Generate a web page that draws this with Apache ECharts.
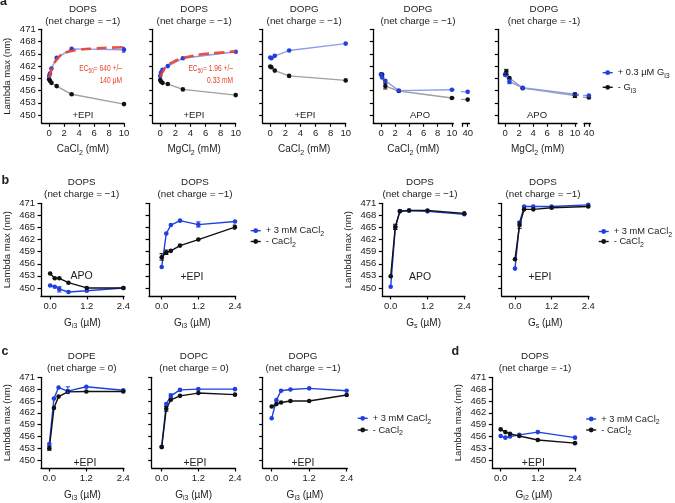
<!DOCTYPE html>
<html><head><meta charset="utf-8">
<script src="https://cdn.jsdelivr.net/npm/echarts@6/dist/echarts.min.js"></script>
<style>html,body{margin:0;padding:0;background:#fff}#c{width:675px;height:503px}</style>
</head><body><div id="c"></div>
<script>
// ---------------- DATA ----------------
const yTicks = [450, 453, 456, 459, 462, 465, 468, 471];
const aTicks = [0, 2, 4, 6, 8, 10];
const gTicks = [0, 1.2, 2.4];

// a1: DOPS, CaCl2, +EPI
const a1X = [0, 0.1, 0.3, 1, 3, 10];
const a1Blue = [459.6, 460.2, 461.4, 464.0, 466.2, 466.0];
const a1Black = [458.8, 458.4, 457.9, 457.1, 455.1, 452.7];
const a1FitX = [0, 0.25, 0.5, 1, 1.5, 2, 3, 4, 6, 8, 10];
const a1FitY = [459.2, 460.8, 462.0, 463.6, 464.6, 465.2, 465.7, 466.0, 466.3, 466.5, 466.6];
const a1ErrBlue = [[10, 465.4, 466.6]];
// a2: DOPS, MgCl2, +EPI
const a2X = [0, 0.1, 0.3, 1, 3, 10];
const a2Blue = [459.6, 460.4, 461.1, 462.0, 463.9, 465.5];
const a2Black = [458.6, 458.2, 457.9, 457.6, 456.3, 454.9];
const a2FitX = [0, 0.5, 1, 2, 3, 4, 6, 8, 10];
const a2FitY = [459.4, 461.2, 462.2, 463.3, 464.0, 464.4, 465.0, 465.3, 465.6];
// a3: DOPG, CaCl2, +EPI
const a3X = [0, 0.15, 0.6, 2.5, 10];
const a3Blue = [464.1, 463.9, 464.5, 465.8, 467.5];
const a3Black = [461.9, 461.7, 460.9, 459.6, 458.5];
// a4: DOPG, CaCl2, APO (broken axis, last point at 40 mM)
const a4X = [0, 0.15, 0.6, 2.5, 10, 40];
const a4Blue = [459.9, 459.2, 458.4, 456.0, 456.2, 455.7];
const a4Black = [460.0, 459.9, 457.1, 455.9, 454.2, 453.8];
const a4ErrBlack = [[0.6, 456.4, 457.8]];
// a5: DOPG, MgCl2, APO
const a5X = [0, 0.15, 0.6, 2.5, 10, 40];
const a5Blue = [459.8, 460.0, 458.2, 456.7, 455.1, 454.8];
const a5Black = [460.0, 460.6, 459.1, 456.6, 454.8, 454.3];
const a5ErrBlue = [[0.6, 457.7, 458.7]];
const a5ErrBlack = [[0.15, 460.0, 461.2], [10, 454.3, 455.4]];

// rows b-d: G protein concentration (uM)
const gX = [0, 0.15, 0.3, 0.6, 1.2, 2.4];
// b1: DOPS, Gi3, APO
const b1Blue = [450.6, 450.3, 449.7, 449.0, 449.3, 450.0];
const b1Black = [453.6, 452.4, 452.4, 451.3, 450.0, 450.0];
const b1ErrBlue = [[0.3, 449.0, 450.3]];
// b2: DOPS, Gi3, +EPI
const b2Blue = [455.2, 463.5, 465.6, 466.7, 465.7, 466.5];
const b2Black = [457.6, 458.8, 459.2, 460.5, 462.0, 465.1];
const b2ErrBlue = [[1.2, 465.1, 466.4]];
const b2ErrBlack = [[0, 456.9, 458.5], [0.15, 458.3, 459.4], [2.4, 464.6, 465.6]];
// b3: DOPS, Gs, APO
const b3Blue = [450.3, 465.0, 469.1, 469.2, 469.0, 468.3];
const b3Black = [452.9, 465.2, 469.0, 469.2, 469.2, 468.5];
const b3ErrBlack = [[0.15, 464.5, 465.8]];
// b4: DOPS, Gs, +EPI
const b4Blue = [454.8, 466.2, 470.2, 470.2, 470.2, 470.6];
const b4Black = [457.1, 465.6, 469.5, 469.5, 469.9, 470.2];
const b4ErrBlack = [[0.15, 464.8, 466.4]];
// c1: DOPE, Gi3, +EPI
const c1Blue = [454.1, 465.6, 468.4, 467.5, 468.6, 467.7];
const c1Black = [453.0, 463.2, 466.1, 467.3, 467.4, 467.4];
const c1ErrBlue = [[0.6, 467.0, 468.6]];
const c1ErrBlack = [[0, 452.5, 453.5]];
// c2: DOPC, Gi3, +EPI
const c2Blue = [453.4, 464.2, 466.3, 467.8, 468.0, 468.0];
const c2Black = [453.3, 463.0, 465.3, 466.3, 467.0, 466.6];
const c2ErrBlue = [[0.3, 465.9, 466.8]];
const c2ErrBlack = [[0.15, 462.4, 463.6]];
// c3: DOPG, Gi3, +EPI
const c3Blue = [460.6, 465.2, 467.6, 467.9, 468.2, 467.6];
const c3Black = [463.6, 464.2, 464.6, 465.0, 465.0, 466.5];
// d: DOPS, Gi2, +EPI
const dBlue = [456.1, 455.7, 456.0, 456.4, 457.1, 455.7];
const dBlack = [457.8, 457.1, 456.7, 456.1, 455.1, 454.3];

// ---------------- STYLE ----------------
const FONT = '"Liberation Sans", Arial, Helvetica, sans-serif';
const BLUE = '#1f3fe0', BLACK = '#111111', LBLUE = '#8d9cf0', GRAY = '#a0a0a0', RED = '#e8412c';
const TXT = '#222';
const SUB = { fontSize: 7, lineHeight: 14, verticalAlign: 'bottom', fontFamily: FONT, color: TXT };
const A_BLUE = '+ 0.3 µM Gi3', A_BLACK = '- Gi3', C_BLUE = '+ 3 mM CaCl2', C_BLACK = '- CaCl2';
const legendFmt = {};
legendFmt[A_BLUE] = '+ 0.3 µM G{s|i3}';
legendFmt[A_BLACK] = '- G{s|i3}';
legendFmt[C_BLUE] = '+ 3 mM CaCl{s|2}';
legendFmt[C_BLACK] = '- CaCl{s|2}';

const option = {
  animation: false, backgroundColor: '#fff',
  textStyle: { fontFamily: FONT },
  grid: [], xAxis: [], yAxis: [], series: [], legend: [], graphic: []
};

function pairs(xs, ys) { return xs.map((v, i) => [v, ys[i]]); }

function errRender(params, api) {
  const x = api.value(0), lo = api.value(1), hi = api.value(2);
  const p1 = api.coord([x, lo]), p2 = api.coord([x, hi]);
  const w = 2.2;
  const style = { stroke: api.visual('color'), lineWidth: 1 };
  return { type: 'group', children: [
    { type: 'line', shape: { x1: p1[0], y1: p1[1], x2: p2[0], y2: p2[1] }, style },
    { type: 'line', shape: { x1: p1[0] - w, y1: p1[1], x2: p1[0] + w, y2: p1[1] }, style },
    { type: 'line', shape: { x1: p2[0] - w, y1: p2[1], x2: p2[0] + w, y2: p2[1] }, style }
  ] };
}

const AX_LINE = { show: true, onZero: false, lineStyle: { color: '#000', width: 1.3 } };

function addGrid(p) {
  const gi = option.grid.length;
  option.grid.push({ left: p.g[0], top: p.g[1], width: p.g[2], height: p.g[3] });
  option.xAxis.push({
    gridIndex: gi, type: 'value', min: p.xr[0], max: p.xr[1],
    axisLine: AX_LINE,
    axisTick: { show: true, length: 3.5, customValues: p.xt, lineStyle: { color: '#000', width: 1.2 } },
    axisLabel: { show: true, customValues: p.xl || p.xt, margin: 5, fontSize: 9.5, color: TXT, fontFamily: FONT,
      formatter: p.xf || (v => String(v)) },
    splitLine: { show: false },
    name: p.xName || '', nameLocation: 'middle', nameGap: p.nameGap || 19,
    nameTextStyle: { fontSize: 10, color: TXT, fontFamily: FONT, rich: { s: SUB } }
  });
  option.yAxis.push({
    gridIndex: gi, type: 'value', min: 448, max: 471, show: p.yShow !== false,
    axisLine: AX_LINE,
    axisTick: { show: true, length: 3.5, customValues: yTicks, lineStyle: { color: '#000', width: 1.2 } },
    axisLabel: { show: !!p.yLab, customValues: yTicks, margin: 6, fontSize: 9.5, color: TXT, fontFamily: FONT },
    splitLine: { show: false },
    name: p.yLab ? 'Lambda max (nm)' : '', nameLocation: 'middle', nameGap: 29, nameRotate: 90,
    nameTextStyle: { fontSize: 9.5, color: TXT, fontFamily: FONT }
  });
  (p.lines || []).forEach(s => {
    option.series.push({
      type: 'line', name: s.name, xAxisIndex: gi, yAxisIndex: gi, data: pairs(s.x, s.y),
      clip: true, symbol: s.noSym ? 'none' : 'circle', symbolSize: 4.6, smooth: !!s.smooth,
      itemStyle: { color: s.c }, lineStyle: { color: s.lc || s.c, width: s.w || 1.4, type: s.dash ? 'dashed' : 'solid', opacity: s.op || 1 },
      emphasis: { disabled: true }, z: s.z || 2
    });
  });
  (p.errs || []).forEach(e => {
    option.series.push({
      type: 'custom', xAxisIndex: gi, yAxisIndex: gi, data: e.d, renderItem: errRender, clip: true,
      encode: { x: 0, y: [1, 2] }, itemStyle: { color: e.c }, z: 3, silent: true
    });
  });
  return gi;
}

function txt(x, y, text, extra, scaleX) {
  option.graphic.push({ type: 'text', silent: true, x, y, scaleX: scaleX || 1,
    style: Object.assign({ x: 0, y: 0, text, fill: TXT, fontSize: 9.5, fontFamily: FONT, align: 'center', verticalAlign: 'middle' }, extra || {}) });
}
function title(cx, y1, name, charge) {
  txt(cx, y1 - 6, name + '\n(net charge = ' + charge + ')', { verticalAlign: 'top', lineHeight: 12, fontSize: 9.8 });
}

const gFmt = v => v.toFixed(1);
const rowA = (xs, blue, black) => [
  { name: A_BLACK, x: xs, y: black, c: BLACK, lc: GRAY },
  { name: A_BLUE, x: xs, y: blue, c: BLUE, lc: LBLUE }
];
const rowG = (xs, blue, black) => [
  { name: C_BLUE, x: xs, y: blue, c: BLUE },
  { name: C_BLACK, x: xs, y: black, c: BLACK }
];
const fit = (xs, ys) => ({ name: 'fit', x: xs, y: ys, c: RED, dash: true, noSym: true, smooth: true, w: 2.6, op: 0.9, z: 4 });

// ---------------- ROW a ----------------
const TA = 29.3, HA = 94;
addGrid({ g: [41.7, TA, 82.3, HA], xr: [-1, 10], xt: aTicks, yLab: true, xName: 'CaCl{s|2} (mM)',
  lines: rowA(a1X, a1Blue, a1Black).concat([fit(a1FitX, a1FitY)]), errs: [{ d: a1ErrBlue, c: BLUE }] });
addGrid({ g: [152.7, TA, 83, HA], xr: [-1, 10], xt: aTicks, xName: 'MgCl{s|2} (mM)',
  lines: rowA(a2X, a2Blue, a2Black).concat([fit(a2FitX, a2FitY)]) });
addGrid({ g: [262.7, TA, 83, HA], xr: [-1, 10], xt: aTicks, xName: 'CaCl{s|2} (mM)',
  lines: rowA(a3X, a3Blue, a3Black) });
addGrid({ g: [373.3, TA, 80, HA], xr: [-1.1, 10.2], xt: aTicks, xName: 'CaCl{s|2} (mM)',
  lines: rowA(a4X, a4Blue, a4Black), errs: [{ d: a4ErrBlack, c: BLACK }] });
addGrid({ g: [462.3, TA, 7.2, HA], xr: [37, 41], xt: [37, 40], xl: [40], yShow: false,
  lines: rowA(a4X, a4Blue, a4Black) });
addGrid({ g: [498.3, TA, 78.7, HA], xr: [-1, 10.3], xt: aTicks, xName: 'MgCl{s|2} (mM)',
  lines: rowA(a5X, a5Blue, a5Black), errs: [{ d: a5ErrBlue, c: BLUE }, { d: a5ErrBlack, c: BLACK }] });
addGrid({ g: [584, TA, 6.5, HA], xr: [37, 41], xt: [37, 40], xl: [40], yShow: false,
  lines: rowA(a5X, a5Blue, a5Black) });

// ---------------- ROW b ----------------
const TB = 203.3, HB = 92.7;
addGrid({ g: [41, TB, 83, HB], xr: [-0.3, 2.42], xt: gTicks, xf: gFmt, yLab: true, xName: 'G{s|i3} (µM)', nameGap: 20,
  lines: rowG(gX, b1Blue, b1Black), errs: [{ d: b1ErrBlue, c: BLUE }] });
addGrid({ g: [149, TB, 86.6, HB], xr: [-0.416, 2.42], xt: gTicks, xf: gFmt, xName: 'G{s|i3} (µM)', nameGap: 20,
  lines: rowG(gX, b2Blue, b2Black), errs: [{ d: b2ErrBlue, c: BLUE }, { d: b2ErrBlack, c: BLACK }] });
addGrid({ g: [382.3, TB, 82.6, HB], xr: [-0.274, 2.42], xt: gTicks, xf: gFmt, yLab: true, xName: 'G{s|s} (µM)', nameGap: 20,
  lines: rowG(gX, b3Blue, b3Black), errs: [{ d: b3ErrBlack, c: BLACK }] });
addGrid({ g: [501.7, TB, 87.2, HB], xr: [-0.435, 2.42], xt: gTicks, xf: gFmt, xName: 'G{s|s} (µM)', nameGap: 20,
  lines: rowG(gX, b4Blue, b4Black), errs: [{ d: b4ErrBlack, c: BLACK }] });

// ---------------- ROW c / d ----------------
const TC = 377.3, HC = 94.3;
addGrid({ g: [41, TC, 82.9, HC], xr: [-0.27, 2.42], xt: gTicks, xf: gFmt, yLab: true, xName: 'G{s|i3} (µM)', nameGap: 20,
  lines: rowG(gX, c1Blue, c1Black), errs: [{ d: c1ErrBlue, c: BLUE }, { d: c1ErrBlack, c: BLACK }] });
addGrid({ g: [151.7, TC, 83.9, HC], xr: [-0.327, 2.42], xt: gTicks, xf: gFmt, xName: 'G{s|i3} (µM)', nameGap: 20,
  lines: rowG(gX, c2Blue, c2Black), errs: [{ d: c2ErrBlue, c: BLUE }, { d: c2ErrBlack, c: BLACK }] });
addGrid({ g: [262.7, TC, 84.6, HC], xr: [-0.288, 2.42], xt: gTicks, xf: gFmt, xName: 'G{s|i3} (µM)', nameGap: 20,
  lines: rowG(gX, c3Blue, c3Black) });
addGrid({ g: [492.3, TC, 83.3, HC], xr: [-0.271, 2.42], xt: gTicks, xf: gFmt, yLab: true, xName: 'G{s|i2} (µM)', nameGap: 20,
  lines: rowG(gX, dBlue, dBlack) });

// ---------------- LEGENDS ----------------
function legend(names, left, top, gap) {
  option.legend.push({
    data: names.map((n, i) => ({ name: n, itemStyle: { color: i === 0 ? BLUE : BLACK }, lineStyle: { color: i === 0 ? BLUE : BLACK, width: 1.4 } })),
    orient: 'vertical', left, top, itemGap: gap, itemWidth: 10, itemHeight: 6, padding: 0, selectedMode: false,
    formatter: n => legendFmt[n] || n,
    textStyle: { fontSize: 9.3, color: TXT, fontFamily: FONT, lineHeight: 14, rich: { s: SUB } }
  });
}
legend([A_BLUE, A_BLACK], 602, 65.7, 0.6);
legend([C_BLUE, C_BLACK], 250, 223.7, -3.2);
legend([C_BLUE, C_BLACK], 598, 224.5, -4);
legend([C_BLUE, C_BLACK], 357, 411.3, -2.3);
legend([C_BLUE, C_BLACK], 585.5, 412, -3);

// ---------------- TEXT ----------------
const M = '\u22121';
title(82.8, 9.5, 'DOPS', M); title(194.2, 9.5, 'DOPS', M); title(304.2, 9.5, 'DOPG', M);
title(418, 9.5, 'DOPG', M); title(544, 9.5, 'DOPG', '-1');
title(81.7, 182.3, 'DOPS', M); title(195, 182.3, 'DOPS', M); title(420, 182.3, 'DOPS', M); title(543, 182.3, 'DOPS', M);
title(81.7, 356, 'DOPE', '0'); title(194, 356, 'DOPC', '0'); title(303, 356, 'DOPG', M); title(535, 356, 'DOPS', '-1');

txt(83, 115.7, '+EPI'); txt(194, 115.7, '+EPI'); txt(305, 115.7, '+EPI'); txt(420, 115.7, 'APO'); txt(537, 115.7, 'APO');
txt(81.7, 276.5, 'APO', { fontSize: 10.5 }); txt(192, 277.3, '+EPI', { fontSize: 10.5 });
txt(420, 277.3, 'APO', { fontSize: 10.5 }); txt(540, 277.3, '+EPI', { fontSize: 10.5 });
txt(85, 463.3, '+EPI', { fontSize: 10.5 }); txt(195, 463.3, '+EPI', { fontSize: 10.5 });
txt(303, 463.3, '+EPI', { fontSize: 10.5 }); txt(533.3, 462.7, '+EPI', { fontSize: 10.5 });

const redRich = { s: { fontSize: 6.5, lineHeight: 12.5, verticalAlign: 'bottom', fontFamily: FONT, fill: RED, color: RED } };
txt(122, 62, 'EC{s|50}= 640 +/\u2013\n140 µM', { fill: RED, align: 'right', verticalAlign: 'top', lineHeight: 11.3, fontSize: 9, rich: redRich }, 0.74);
txt(233, 62, 'EC{s|50}= 1.96 +/\u2013\n0.33 mM', { fill: RED, align: 'right', verticalAlign: 'top', lineHeight: 11.3, fontSize: 9, rich: redRich }, 0.74);

const bold = { fontWeight: 'bold', fontSize: 12.5, align: 'left', verticalAlign: 'bottom' };
txt(0, 8.5, 'a', bold); txt(1.5, 187, 'b', bold); txt(1.5, 358, 'c', bold); txt(451.5, 358.5, 'd', bold);

const chart = echarts.init(document.getElementById('c'), null, { renderer: 'canvas' });
chart.setOption(option);
</script></body></html>
